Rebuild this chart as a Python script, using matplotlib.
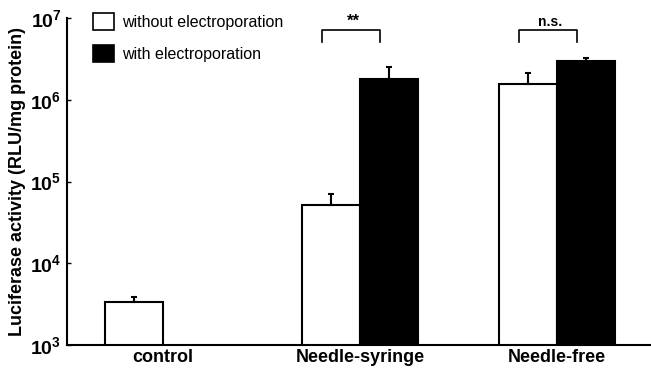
import numpy as np
import matplotlib
matplotlib.use('Agg')
import matplotlib.pyplot as plt
from matplotlib.patches import Patch

plt.rcParams['font.family'] = ['Liberation Sans', 'DejaVu Sans']
plt.rcParams['mathtext.fontset'] = 'custom'
plt.rcParams['mathtext.rm'] = 'Liberation Sans'
plt.rcParams['mathtext.bf'] = 'Liberation Sans:bold'

# === Data ===
groups = ['control', 'Needle-syringe', 'Needle-free']
without_ep = [3.35e3, 5.2e4, 1.55e6]
without_err = [0.5e3, 1.8e4, 0.55e6]
with_ep = [np.nan, 1.8e6, 2.95e6]
with_err = [np.nan, 0.7e6, 0.32e6]
yticks = [1e3, 1e4, 1e5, 1e6, 1e7]
ytick_labels = [r'$\mathbf{10^{3}}$', r'$\mathbf{10^{4}}$', r'$\mathbf{10^{5}}$',
                r'$\mathbf{10^{6}}$', r'$\mathbf{10^{7}}$']
sig_labels = ['**', 'n.s.']
sig_groups = [1, 2]

W = 0.294
x = np.arange(len(groups))

fig = plt.figure(figsize=(6.51, 3.71), dpi=100)
ax = fig.add_axes([67 / 651, 1 - 345 / 371, 583 / 651, 327 / 371])

ax.bar(x - W / 2, without_ep, W, color='white', edgecolor='black', lw=1.5,
       yerr=[np.zeros(3), without_err], capsize=2.5,
       error_kw=dict(elinewidth=1.5, capthick=1.5, ecolor='black'))
ax.bar(x + W / 2, with_ep, W, color='black', edgecolor='black', lw=1.5,
       yerr=[np.zeros(3), with_err], capsize=2.5,
       error_kw=dict(elinewidth=1.5, capthick=1.5, ecolor='black'))

ax.set_yscale('log')
ax.set_ylim(1e3, 1e7)
ax.set_xlim(-0.487, 2.472)
ax.set_yticks(yticks)
ax.set_yticklabels(ytick_labels, fontsize=14)
ax.minorticks_off()
ax.tick_params(axis='y', direction='in', length=3, width=1, pad=4)
ax.tick_params(axis='x', length=0, pad=3)
ax.set_xticks(x)
ax.set_xticklabels(groups, fontsize=13, fontweight='bold')
ax.set_ylabel('Luciferase activity (RLU/mg protein)', fontsize=13,
              fontweight='bold', labelpad=3)

for s in ['top', 'right']:
    ax.spines[s].set_visible(False)
for s in ['left', 'bottom']:
    ax.spines[s].set_linewidth(1.5)

# significance brackets
for g, lab in zip(sig_groups, sig_labels):
    x0, x1 = g - W / 2 - 0.045, g + W / 2 - 0.045
    ax.plot([x0, x0, x1, x1], [5.1e6, 7.1e6, 7.1e6, 5.1e6], color='black',
            lw=1.2, clip_on=False)
    ax.text((x0 + x1) / 2 + 0.01, 7.4e6, lab, ha='center', va='bottom',
            fontsize=10 if lab == 'n.s.' else 12, fontweight='bold')

handles = [Patch(facecolor='white', edgecolor='black', lw=1.2),
           Patch(facecolor='black', edgecolor='black', lw=1.2)]
ax.legend(handles, ['without electroporation', 'with electroporation'],
          loc='upper left', bbox_to_anchor=(0.02, 1.06), frameon=False,
          fontsize=11.5, handlelength=1.3, handleheight=1.3, handletextpad=0.5,
          labelspacing=0.9)

fig.savefig('out.png', dpi=100)
